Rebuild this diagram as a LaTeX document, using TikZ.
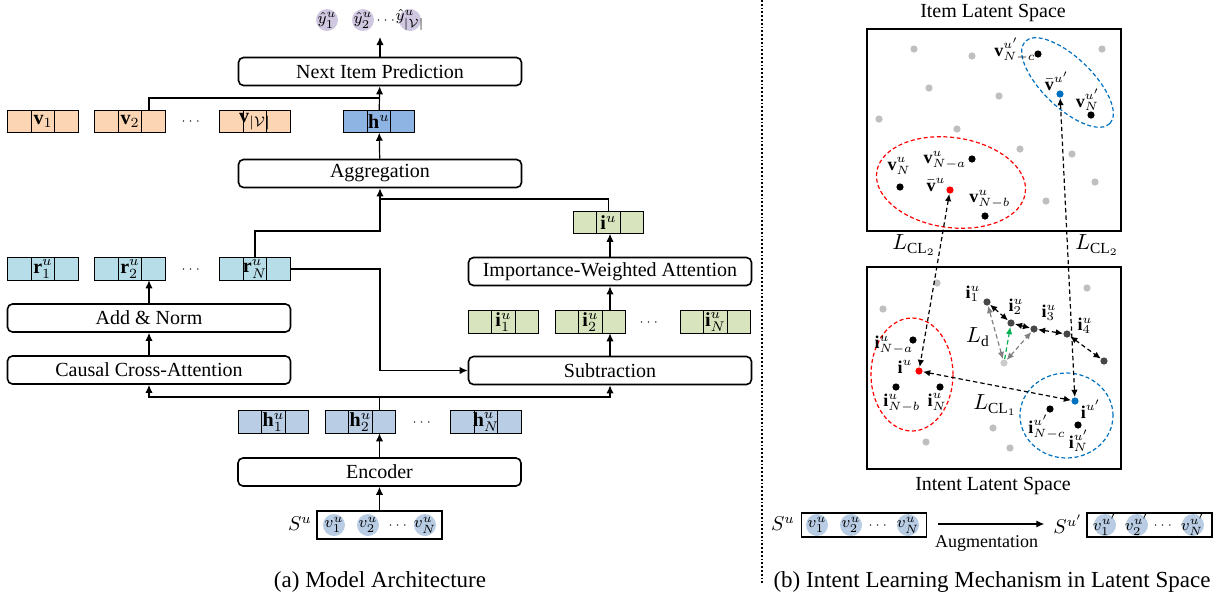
\documentclass[tikz,border=0pt]{standalone}
\usepackage{fontspec}
\setmainfont{Liberation Serif}
\usepackage{amsmath, amssymb}
\usetikzlibrary{arrows.meta, positioning}

\definecolor{vorange}{RGB}{252,213,181}
\definecolor{hblue}{RGB}{142,180,227}
\definecolor{rcyan}{RGB}{183,222,232}
\definecolor{igreen}{RGB}{215,228,189}
\definecolor{hsteel}{RGB}{185,205,229}
\definecolor{ylilac}{RGB}{208,199,224}
\definecolor{seqblue}{RGB}{184,204,228}
\definecolor{dotblue}{RGB}{0,112,192}
\definecolor{ldgreen}{RGB}{0,176,80}

\tikzset{
  stage/.style={draw, thick, rounded corners=2.5pt, minimum width=141.5pt, minimum height=14pt, inner sep=0pt, font=\fontsize{10}{12}\selectfont},
  vcell/.style={draw, line width=0.5pt, minimum width=11.7pt, minimum height=11.25pt, inner sep=0pt, outer sep=0pt},
  bubble/.style={circle, minimum size=11pt, inner sep=0pt, font=\fontsize{8}{9}\selectfont},
  seqbox/.style={draw, line width=0.6pt, minimum width=62.5pt, minimum height=14pt, inner sep=0pt},
  latbox/.style={draw, line width=1pt, minimum width=127pt, minimum height=101pt, inner sep=0pt},
  arr/.style={-{Latex[length=4pt,width=3.6pt]}, line width=0.6pt},
  latpt/.style={circle, minimum size=3.6pt, inner sep=0pt},
  lbl/.style={inner sep=0pt, font=\fontsize{9}{10}\selectfont},
  gap/.style={inner sep=0pt, font=\fontsize{6.5}{7}\selectfont},
  pair/.style={{Latex[length=3.6pt,width=3.2pt]}-{Latex[length=3.6pt,width=3.2pt]}, dash pattern=on 2.2pt off 1.5pt, line width=0.6pt},
  cluster/.style={dash pattern=on 2pt off 1.3pt, line width=0.6pt}
}

\newcommand{\featvec}[4]{%
  \node[vcell, fill=#3] (#1) at (#2) {};
  \node[vcell, fill=#3, left=0pt of #1] (#1l) {};
  \node[vcell, fill=#3, right=0pt of #1] (#1r) {};
  \node[inner sep=0pt, font=\fontsize{10}{11}\selectfont] (#1t) at (#1) {$#4$};}

\begin{document}
\begin{tikzpicture}[x=0.5pt, y=-0.5pt]
\useasboundingbox (0,0) rectangle (1223,601);

\begin{scope}[every node/.style={stage}]
    \node (pred) at (380,71.5) {Next Item Prediction};
    \node (agg) at (380,173.5) {Aggregation};
    \node (addn) at (149,318) {Add \& Norm};
    \node (cca) at (149,370) {Causal Cross-Attention};
    \node (iwa) at (610,271.5) {Importance-Weighted Attention};
    \node (sub) at (610,370.5) {Subtraction};
    \node (enc) at (379.5,472) {Encoder};
\end{scope}

\featvec{v1}{43,121.5}{vorange}{\mathbf{v}_1}
\featvec{v2}{130,121.5}{vorange}{\mathbf{v}_2}
\featvec{vV}{255,121.5}{vorange}{\mathbf{v}_{|\mathcal{V}|}}
\featvec{hu}{379,121.5}{hblue}{\mathbf{h}^u}
\featvec{r1}{43,269}{rcyan}{\mathbf{r}^u_1}
\featvec{r2}{130,269}{rcyan}{\mathbf{r}^u_2}
\featvec{rN}{255,269}{rcyan}{\mathbf{r}^u_N}
\featvec{iu}{608.5,222.5}{igreen}{\mathbf{i}^u}
\featvec{i1}{503.5,322}{igreen}{\mathbf{i}^u_1}
\featvec{i2}{590.5,322}{igreen}{\mathbf{i}^u_2}
\featvec{iN}{715.5,322}{igreen}{\mathbf{i}^u_N}
\featvec{h1}{273.5,422}{hsteel}{\mathbf{h}^u_1}
\featvec{h2}{360.5,422}{hsteel}{\mathbf{h}^u_2}
\featvec{hN}{486,422}{hsteel}{\mathbf{h}^u_N}

\begin{scope}[every node/.style={gap}]
    \node (vdots) at (192,122) {$\cdots$};
    \node (rdots) at (192,270) {$\cdots$};
    \node (idots) at (650,323) {$\cdots$};
    \node (hdots) at (423,423) {$\cdots$};
    \node (ydots) at (387,21) {$\cdots$};
    \node (svd) at (399,526) {$\cdots$};
    \node (ad) at (879,526) {$\cdots$};
    \node (bd) at (1164,526) {$\cdots$};
\end{scope}

\begin{scope}[every node/.style={bubble, fill=ylilac}]
    \node (y1) at (327,20) {\makebox[0pt]{$\hat{y}^u_1$}};
    \node (y2) at (363,20) {\makebox[0pt]{$\hat{y}^u_2$}};
    \node (yV) at (410,20) {\makebox[0pt]{$\hat{y}^u_{|\mathcal{V}|}$}};
\end{scope}

\node[seqbox] (sbox) at (379.5,525) {};
\begin{scope}[every node/.style={bubble, fill=seqblue}]
    \node (sv1) at (334,525) {\makebox[0pt]{$v^u_1$}};
    \node (sv2) at (368,525) {\makebox[0pt]{$v^u_2$}};
    \node (svN) at (425,525) {\makebox[0pt]{$v^u_N$}};
\end{scope}
\node (slab) at (300,524) {$S^u$};

\coordinate (yout) at (380,37);
\coordinate (pj) at (380,98);
\coordinate (ai) at (380,199);
\coordinate (aj) at (380,231);
\coordinate (rs) at (380,370.5);
\coordinate (hj) at (379.5,397);

\begin{scope}[every edge/.style={draw, arr}]
    \path (pred) edge (yout);
    \path (hu) edge (pred);
    \path (agg) edge (hu);
    \path (cca) edge (addn);
    \path (addn) edge (addn |- r2.south);
    \path (sub) edge (sub |- i2.south);
    \path (iwa |- i2.north) edge (iwa);
    \path (iwa) edge (iwa |- iu.south);
    \path (enc) edge (enc |- h2.south);
    \path (sbox) edge (enc);
\end{scope}

\draw[line width=0.6pt] (addn |- v2.north) |- (pj);
\draw[arr] (rN.north) |- (aj) -- (agg);
\draw[line width=0.6pt] (iu.north) |- (ai);
\draw[arr] (rNr.east) -| (rs) -- (sub);
\draw[line width=0.6pt] (enc |- h2.north) -- (hj);
\draw[arr] (hj) -| (cca);
\draw[arr] (hj) -| (sub);

\node[font=\fontsize{11.5}{13}\selectfont] (capa) at (380,582) {(a) Model Architecture};

\draw[densely dotted, line width=0.9pt] (762,0) -- (762,583);

\node[latbox] (itsp) at (994,129.5) {};
\node[latbox] (insp) at (994,368) {};
\node[font=\fontsize{10}{12}\selectfont] (ittl) at (993,13) {Item Latent Space};
\node[font=\fontsize{10}{12}\selectfont] (intl) at (993,486) {Intent Latent Space};

\draw[cluster, red, rotate around={-8:(951,182.5)}] (951,182.5) ellipse [x radius=37.5pt, y radius=22.5pt];
\draw[cluster, dotblue, rotate around={-44:(1067.5,82.5)}] (1067.5,82.5) ellipse [x radius=29.5pt, y radius=12.5pt];
\draw[cluster, red] (912,374.5) ellipse [x radius=20.5pt, y radius=28.25pt];
\draw[cluster, dotblue] (1066.5,415.5) ellipse [x radius=23.25pt, y radius=21.25pt];

\begin{scope}[every node/.style={latpt, fill=black!25}]
    \node (g1) at (914,49) {};
    \node (g2) at (972,56) {};
    \node (g3) at (929,88) {};
    \node (g4) at (999,96) {};
    \node (g5) at (879,119) {};
    \node (g6) at (957,129) {};
    \node (g7) at (1102,49) {};
    \node (g8) at (1020,149) {};
    \node (g9) at (1072,154) {};
    \node (g10) at (1095,182) {};
    \node (g11) at (1046,201) {};
    \node (g12) at (937,283) {};
    \node (g13) at (883,309) {};
    \node (g14) at (1087,288) {};
    \node (g15) at (993,428) {};
    \node (g16) at (926,442) {};
    \node (g17) at (1010,448) {};
\end{scope}

\begin{scope}[every node/.style={latpt, fill=black}]
    \node (vNcp) at (1038,54) {};
    \node (vNp) at (1091,115) {};
    \node (vN) at (900,187) {};
    \node (vNa) at (972,159) {};
    \node (vNb) at (985,216) {};
    \node (iNa) at (913,340) {};
    \node (iNb) at (896,387) {};
    \node (iN) at (940,387) {};
    \node (iNcp) at (1050,409) {};
    \node (iNp) at (1078,425) {};
\end{scope}

\begin{scope}[every node/.style={latpt, fill=black!72}]
    \node (s1) at (987,302) {};
    \node (s2) at (1011,323) {};
    \node (s3) at (1034,329) {};
    \node (s4) at (1067,334) {};
    \node (s5) at (1104,361) {};
\end{scope}

\node[latpt, fill=red] (vbar) at (950,190) {};
\node[latpt, fill=dotblue] (vbarp) at (1060,94) {};
\node[latpt, fill=red] (idot) at (919,371) {};
\node[latpt, fill=dotblue] (idotp) at (1075,401) {};
\node[latpt, fill=black!20] (gt) at (1004,363) {};

\begin{scope}[every node/.style={lbl}]
    \node (lvNcp) at (1015,50) {$\mathbf{v}^{u'}_{N-c}$};
    \node (lvbp) at (1057,81) {$\bar{\mathbf{v}}^{u'}$};
    \node (lvNp) at (1088,100) {$\mathbf{v}^{u'}_N$};
    \node (lvN) at (899,166) {$\mathbf{v}^u_N$};
    \node (lvNa) at (945,160) {$\mathbf{v}^u_{N-a}$};
    \node (lvb) at (936,185) {$\bar{\mathbf{v}}^u$};
    \node (lvNb) at (990,199) {$\mathbf{v}^u_{N-b}$};
    \node (ls1) at (973,294) {$\mathbf{i}^u_1$};
    \node (ls2) at (1016,307) {$\mathbf{i}^u_2$};
    \node (ls3) at (1049,313) {$\mathbf{i}^u_3$};
    \node (ls4) at (1085,326) {$\mathbf{i}^u_4$};
    \node (liNa) at (894,345) {$\mathbf{i}^u_{N-a}$};
    \node (lidot) at (905,367) {$\mathbf{i}^u$};
    \node (liNb) at (902,403) {$\mathbf{i}^u_{N-b}$};
    \node (liN) at (937,402) {$\mathbf{i}^u_N$};
    \node (lidotp) at (1091,409) {$\mathbf{i}^{u'}$};
    \node (liNcp) at (1047,427) {$\mathbf{i}^{u'}_{N-c}$};
    \node (liNp) at (1079,441) {$\mathbf{i}^{u'}_N$};
\end{scope}

\begin{scope}[every node/.style={inner sep=0pt, font=\fontsize{11}{12}\selectfont}]
    \node (lcl2a) at (914,245) {$L_{\mathrm{CL}_2}$};
    \node (lcl2b) at (1097,245) {$L_{\mathrm{CL}_2}$};
    \node (lcl1) at (995,405) {$L_{\mathrm{CL}_1}$};
    \node (ld) at (978,337) {$L_{\mathrm{d}}$};
\end{scope}

\begin{scope}[every edge/.style={draw, pair}]
    \path (vbar) edge (idot);
    \path (vbarp) edge (idotp);
    \path (idot) edge (idotp);
    \path (s1) edge (s2);
    \path (s2) edge (s3);
    \path (s3) edge (s4);
    \path (s4) edge (s5);
    \path (gt) edge[black!50] (s1);
    \path (gt) edge[black!50] (s3);
\end{scope}
\draw[dash pattern=on 2.2pt off 1.5pt, line width=0.6pt, ldgreen, -{Latex[length=3.6pt,width=3.2pt]}] (gt) -- (s2);

\node (sl1) at (783,524) {$S^u$};
\node[seqbox, minimum height=12pt] (sb1) at (864,525) {};
\begin{scope}[every node/.style={bubble, fill=seqblue}]
    \node (a1) at (817,525) {\makebox[0pt]{$v^u_1$}};
    \node (a2) at (851,525) {\makebox[0pt]{$v^u_2$}};
    \node (aN) at (908,525) {\makebox[0pt]{$v^u_N$}};
\end{scope}

\node (sl2) at (1068,524) {$S^{u'}$};
\node[seqbox, minimum height=12pt] (sb2) at (1149.5,525) {};
\begin{scope}[every node/.style={bubble, fill=seqblue}]
    \node (b1) at (1105,525) {\makebox[0pt]{$v^{u'}_1$}};
    \node (b2) at (1137,525) {\makebox[0pt]{$v^{u'}_2$}};
    \node (bN) at (1193,525) {\makebox[0pt]{$v^{u'}_N$}};
\end{scope}

\draw[arr, shorten <=5.5pt, shorten >=1pt] (sb1.east |- sl1) -- (sl2)
    node[midway, below=2pt, font=\fontsize{9}{10}\selectfont] (aug) {Augmentation};

\node[font=\fontsize{11.5}{13}\selectfont] (capb) at (992,582) {(b) Intent Learning Mechanism in Latent Space};
\end{tikzpicture}
\end{document}
